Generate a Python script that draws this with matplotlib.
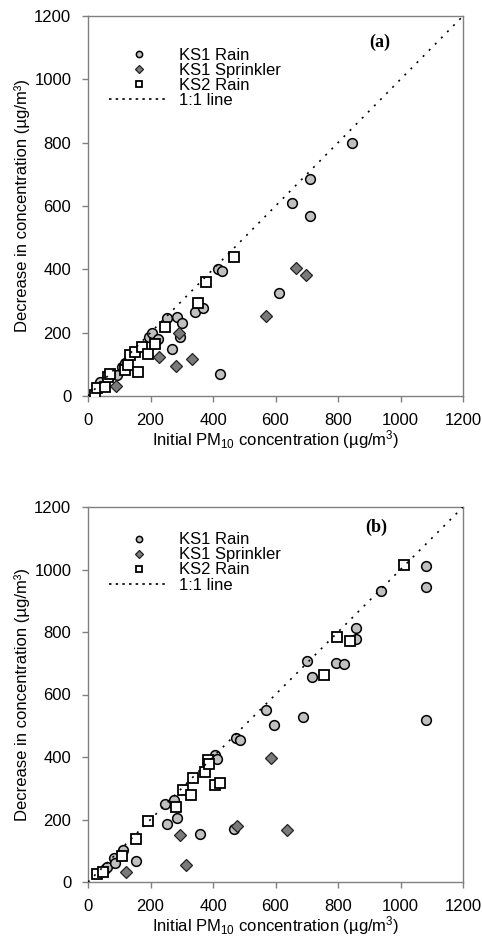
import matplotlib
matplotlib.use("Agg")
import matplotlib.pyplot as plt
from matplotlib.lines import Line2D

plt.rcParams['font.family'] = ['Liberation Sans', 'DejaVu Sans']
plt.rcParams['mathtext.fontset'] = 'custom'
plt.rcParams['mathtext.rm'] = 'Liberation Sans'
plt.rcParams['mathtext.it'] = 'Liberation Sans:italic'
plt.rcParams['mathtext.default'] = 'regular'

# ---------------- data: panel (a) ----------------
a_ks1_rain_x = [38, 92, 108, 118, 194, 204, 225, 252, 268, 284, 294, 300, 342, 369, 417, 428, 422, 611, 654, 710, 710, 845]
a_ks1_rain_y = [45, 66, 93, 103, 185, 198, 179, 245, 150, 250, 187, 229, 266, 277, 401, 396, 71, 324, 608, 684, 568, 799]
a_ks1_spr_x = [89, 227, 281, 292, 332, 569, 666, 698]
a_ks1_spr_y = [32, 124, 95, 198, 116, 253, 403, 382]
a_ks2_rain_x = [22, 28, 54, 65, 70, 118, 129, 134, 150, 161, 174, 191, 214, 246, 351, 377, 468]
a_ks2_rain_y = [3, 24, 29, 59, 68, 82, 98, 129, 140, 77, 156, 133, 163, 219, 295, 361, 438]

# ---------------- data: panel (b) ----------------
b_ks1_rain_x = [55, 61, 82, 85, 112, 152, 247, 253, 274, 285, 357, 407, 412, 468, 474, 487, 570, 596, 689, 700, 716, 792, 819, 859, 859, 936, 1080, 1080, 1083]
b_ks1_rain_y = [42, 48, 78, 60, 104, 67, 251, 185, 264, 206, 155, 405, 395, 171, 462, 456, 549, 504, 528, 707, 656, 702, 697, 814, 779, 931, 1010, 944, 517]
b_ks1_spr_x = [120, 293, 313, 478, 585, 637]
b_ks1_spr_y = [32, 151, 56, 178, 397, 165]
b_ks2_rain_x = [29, 48, 109, 152, 191, 281, 304, 330, 336, 375, 384, 388, 407, 423, 755, 797, 838, 1011]
b_ks2_rain_y = [27, 32, 84, 139, 194, 241, 293, 277, 333, 352, 392, 379, 309, 317, 661, 784, 770, 1013]

one_to_one = [0, 1200]
ticks = [0, 200, 400, 600, 800, 1000, 1200]
series_labels = ["KS1 Rain", "KS1 Sprinkler", "KS2 Rain", "1:1 line"]
panel_labels = ["(a)", "(b)"]
xlabel = r"Initial PM$_{10}$ concentration (µg/m$^{3}$)"
ylabel = "Decrease in concentration (µg/m³)"

W, H = 482, 936
fig = plt.figure(figsize=(W / 100, H / 100), dpi=100)

def px_axes(left, top, right, bottom):
    return fig.add_axes([left / W, 1 - bottom / H, (right - left) / W, (bottom - top) / H])

ax_a = px_axes(88, 16, 463, 396)
ax_b = px_axes(88, 507, 463, 882)

panels = [
    (ax_a, a_ks1_rain_x, a_ks1_rain_y, a_ks1_spr_x, a_ks1_spr_y, a_ks2_rain_x, a_ks2_rain_y, panel_labels[0], (934, 1116), (0.055, 0.917)),
    (ax_b, b_ks1_rain_x, b_ks1_rain_y, b_ks1_spr_x, b_ks1_spr_y, b_ks2_rain_x, b_ks2_rain_y, panel_labels[1], (924, 1136), (0.055, 0.932)),
]

spine_col = '#808080'
for ax, rx, ry, sx, sy, qx, qy, lab, lpos, legpos in panels:
    ax.plot(rx, ry, linestyle='none', marker='o', markersize=7, markerfacecolor='#c0c0c0',
            markeredgecolor='black', markeredgewidth=1.1, zorder=3)
    ax.plot(sx, sy, linestyle='none', marker='D', markersize=6.3, markerfacecolor='#7a7a7a',
            markeredgecolor='#222222', markeredgewidth=0.9, zorder=4)
    ax.plot(qx, qy, linestyle='none', marker='s', markersize=7.8, markerfacecolor='white',
            markeredgecolor='black', markeredgewidth=1.3, zorder=5)
    ax.plot(one_to_one, one_to_one, color='black', linewidth=1.2, linestyle=(0, (1.2, 4.0)), zorder=6)

    ax.set_xlim(0, 1200)
    ax.set_ylim(0, 1200)
    ax.set_xticks(ticks)
    ax.set_yticks(ticks)
    ax.tick_params(direction='out', length=4, width=1, color=spine_col, labelsize=12,
                   labelcolor='black', pad=8)
    for s in ax.spines.values():
        s.set_color(spine_col)
        s.set_linewidth(1)
    ax.set_xlabel(xlabel, fontsize=12, labelpad=0)
    ax.set_ylabel(ylabel, fontsize=12, labelpad=3)
    ax.text(lpos[0], lpos[1], lab, fontsize=13, family='Liberation Serif', fontweight='bold',
            ha='center', va='center')

    handles = [
        Line2D([], [], linestyle='none', marker='o', markersize=4.5, markerfacecolor='#c0c0c0',
               markeredgecolor='black', markeredgewidth=1.1),
        Line2D([], [], linestyle='none', marker='D', markersize=4.2, markerfacecolor='#7a7a7a',
               markeredgecolor='#222222', markeredgewidth=0.9),
        Line2D([], [], linestyle='none', marker='s', markersize=5.0, markerfacecolor='white',
               markeredgecolor='black', markeredgewidth=1.3),
        Line2D([], [], color='black', linewidth=1.2, linestyle=(0, (1.5, 2.5))),
    ]
    ax.legend(handles, series_labels, loc='upper left', bbox_to_anchor=legpos,
              frameon=False, fontsize=12, handlelength=3.6, handletextpad=0.6,
              labelspacing=0.0, borderpad=0, borderaxespad=0)

fig.savefig("out.png", dpi=100)
